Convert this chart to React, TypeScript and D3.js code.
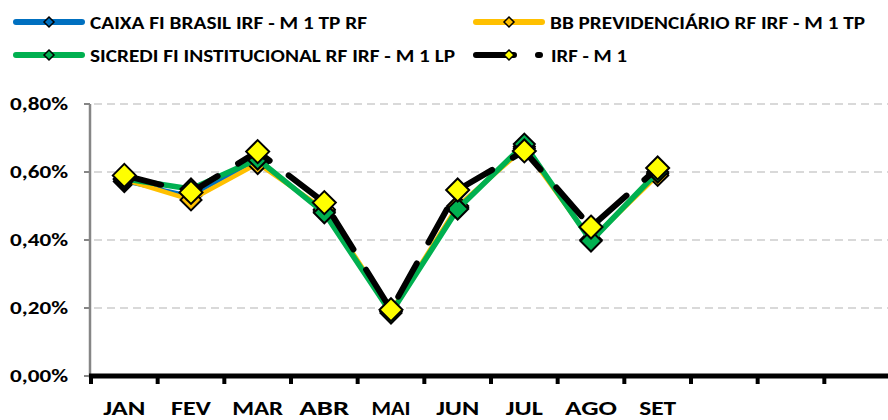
import React from "react";
import * as d3 from "d3";

const months = ["JAN", "FEV", "MAR", "ABR", "MAI", "JUN", "JUL", "AGO", "SET", "OUT", "NOV", "DEZ"];
const monthLabels = ["JAN", "FEV", "MAR", "ABR", "MAI", "JUN", "JUL", "AGO", "SET", "", "", ""];
const caixa = [0.572, 0.53, 0.635, 0.485, 0.19, 0.495, 0.675, 0.4, 0.595];
const bb = [0.578, 0.518, 0.625, 0.49, 0.19, 0.5, 0.67, 0.4, 0.59];
const sicredi = [0.58, 0.55, 0.638, 0.48, 0.185, 0.491, 0.682, 0.397, 0.6];
const irfm1 = [0.59, 0.54, 0.66, 0.51, 0.195, 0.547, 0.662, 0.438, 0.612];
const yTicks = [0, 0.2, 0.4, 0.6, 0.8];

const seriesNames = [
  "CAIXA FI BRASIL IRF - M 1 TP RF",
  "BB PREVIDENCIÁRIO RF IRF - M 1 TP",
  "SICREDI FI INSTITUCIONAL RF IRF - M 1 LP",
  "IRF - M 1",
];

const FONT = "Carlito, Lato, 'Open Sans', sans-serif";

function diamond(cx: number, cy: number, r: number) {
  return `M${cx},${cy - r}L${cx + r},${cy}L${cx},${cy + r}L${cx - r},${cy}Z`;
}

export default function App() {
  const W = 888;
  const H = 420;
  const x = d3.scaleBand<string>().domain(months).range([91, 891]);
  const y = d3.scaleLinear().domain([0, 0.8]).range([376, 104]);
  const cx = (i: number) => (x(months[i]) as number) + x.bandwidth() / 2;
  const line = d3
    .line<number>()
    .x((_, i) => cx(i))
    .y((d) => y(d));
  const fmt = (v: number) => d3.format(".2f")(v).replace(".", ",") + "%";

  const series = [
    { name: seriesNames[0], data: caixa, color: "#0070C0", width: 3.5, marker: "#0070C0" },
    { name: seriesNames[1], data: bb, color: "#FFC000", width: 4.5, marker: "#FFC000" },
    { name: seriesNames[2], data: sicredi, color: "#00B050", width: 5.5, marker: "#00B050" },
  ];

  const legendTextW: Record<string, number> = {
    [seriesNames[0]]: 277,
    [seriesNames[1]]: 315,
    [seriesNames[2]]: 365,
  };
  const xLabelW: Record<string, number> = {
    JAN: 42, FEV: 40, MAR: 51, ABR: 50, MAI: 39, JUN: 43, JUL: 37, AGO: 52, SET: 37,
  };
  const legendPos = [
    { lx: 16, ly: 22 },
    { lx: 476, ly: 22 },
    { lx: 16, ly: 55 },
    { lx: 476, ly: 55 },
  ];

  return (
    <svg
      width={W}
      height={H}
      style={{ position: "absolute", left: 0, top: 0, background: "#fff" }}
      fontFamily={FONT}
      fontWeight="bold"
    >
      {/* gridlines */}
      {yTicks.filter((t) => t > 0).map((t) => (
        <line key={"g" + t} x1={94} x2={W} y1={y(t)} y2={y(t)} stroke="#D9D9D9" strokeWidth={2} strokeDasharray="8,5" />
      ))}
      {/* y axis */}
      <line x1={90} x2={90} y1={y(0.8)} y2={y(0) + 2} stroke="#868686" strokeWidth={2.5} />
      {yTicks.map((t) => (
        <g key={"t" + t}>
          <line x1={84} x2={90} y1={y(t)} y2={y(t)} stroke="#868686" strokeWidth={2} />
          <text x={68} y={y(t) + 6} textAnchor="end" fontSize={17} textLength={58} lengthAdjust="spacingAndGlyphs" fill="#000">
            {fmt(t)}
          </text>
        </g>
      ))}
      {/* x axis */}
      <line x1={89} x2={W} y1={y(0)} y2={y(0)} stroke="#000" strokeWidth={5} />
      {d3.range(months.length + 1).map((i) => {
        const tx = 91 + i * x.step();
        return <line key={"xt" + i} x1={tx} x2={tx} y1={y(0)} y2={y(0) + 8} stroke="#000" strokeWidth={4} />;
      })}
      {monthLabels.map((m, i) =>
        m ? (
          <text key={"xl" + i} x={cx(i)} y={415} textAnchor="middle" fontSize={20} textLength={xLabelW[m]} lengthAdjust="spacingAndGlyphs" fill="#000">
            {m}
          </text>
        ) : null
      )}
      {/* series */}
      {series.map((s) => (
        <g key={s.name}>
          <path d={line(s.data) || ""} fill="none" stroke={s.color} strokeWidth={s.width} strokeLinejoin="round" />
          {s.data.map((v, i) => (
            <path key={i} d={diamond(cx(i), y(v), 10.5)} fill={s.marker} stroke="#000" strokeWidth={2} />
          ))}
        </g>
      ))}
      <path d={line(irfm1) || ""} fill="none" stroke="#000" strokeWidth={6} strokeDasharray="38,24" strokeLinecap="round" />
      {irfm1.map((v, i) => (
        <path key={"irf" + i} d={diamond(cx(i), y(v), 11.5)} fill="#FFFF00" stroke="#000" strokeWidth={2} />
      ))}
      {/* legend */}
      {series.map((s, k) => {
        const p = legendPos[k];
        return (
          <g key={"lg" + k}>
            <line x1={p.lx} x2={p.lx + 66} y1={p.ly} y2={p.ly} stroke={s.color} strokeWidth={6} strokeLinecap="round" />
            <path d={diamond(p.lx + 33, p.ly, 5)} fill={s.marker} stroke="#000" strokeWidth={1.5} />
            <text x={p.lx + 74} y={p.ly + 6.5} fontSize={18} textLength={legendTextW[s.name]} lengthAdjust="spacingAndGlyphs" fill="#000">
              {s.name}
            </text>
          </g>
        );
      })}
      <g>
        <line x1={legendPos[3].lx} x2={legendPos[3].lx + 64} y1={legendPos[3].ly} y2={legendPos[3].ly} stroke="#000" strokeWidth={6} strokeDasharray="38,24" strokeLinecap="round" />
        <path d={diamond(legendPos[3].lx + 33, legendPos[3].ly, 5)} fill="#FFFF00" stroke="#000" strokeWidth={1.5} />
        <text x={legendPos[3].lx + 75} y={legendPos[3].ly + 6.5} fontSize={18} textLength={76} lengthAdjust="spacingAndGlyphs" fill="#000">
          {seriesNames[3]}
        </text>
      </g>
    </svg>
  );
}
